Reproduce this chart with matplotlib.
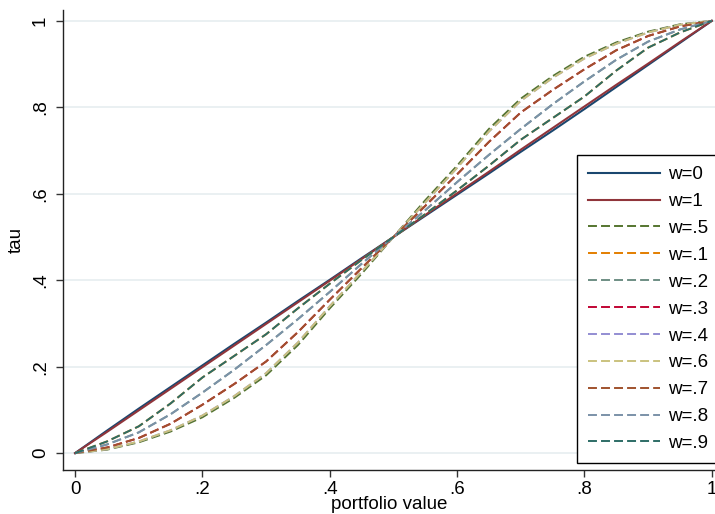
import matplotlib
matplotlib.use("Agg")
import matplotlib.pyplot as plt

# portfolio value grid
x = [0, .05, .1, .15, .2, .25, .3, .35, .4, .45, .5,
     .55, .6, .65, .7, .75, .8, .85, .9, .95, 1]

w0 = [0, .052, .103, .153, .203, .253, .302, .352, .401, .451, .5,
      .549, .598, .647, .697, .746, .796, .847, .898, .949, 1]
w1 = [0, .049, .099, .149, .199, .249, .299, .349, .399, .449, .5,
      .551, .601, .651, .702, .752, .802, .852, .901, .951, 1]
w05 = [0, .008, .025, .05, .083, .128, .18, .25, .335, .415, .5,
       .585, .665, .75, .82, .872, .917, .95, .975, .992, 1]
w01 = [0, .027, .062, .115, .175, .225, .275, .335, .392, .447, .5,
       .553, .608, .665, .725, .775, .825, .885, .938, .973, 1]
w02 = [0, .02, .048, .09, .14, .193, .25, .31, .373, .438, .5,
       .562, .627, .69, .75, .807, .86, .91, .952, .98, 1]
w03 = [0, .013, .035, .068, .112, .16, .212, .28, .355, .428, .5,
       .572, .645, .72, .788, .84, .888, .932, .965, .987, 1]
w04 = [0, .009, .027, .053, .087, .132, .185, .256, .34, .42, .5,
       .58, .66, .744, .815, .868, .913, .947, .973, .991, 1]
w06 = [0, .009, .027, .053, .087, .132, .185, .256, .34, .42, .5,
       .58, .66, .744, .815, .868, .913, .947, .973, .991, 1]
w07 = [0, .013, .035, .068, .112, .16, .212, .28, .355, .428, .5,
       .572, .645, .72, .788, .84, .888, .932, .965, .987, 1]
w08 = [0, .02, .048, .09, .14, .193, .25, .31, .373, .438, .5,
       .562, .627, .69, .75, .807, .86, .91, .952, .98, 1]
w09 = [0, .027, .062, .115, .175, .225, .275, .335, .392, .447, .5,
       .553, .608, .665, .725, .775, .825, .885, .938, .973, 1]

labels = ["w=0", "w=1", "w=.5", "w=.1", "w=.2", "w=.3", "w=.4",
          "w=.6", "w=.7", "w=.8", "w=.9"]
series = [w0, w1, w05, w01, w02, w03, w04, w06, w07, w08, w09]
colors = ["#1a476f", "#90353b", "#55752f", "#e37e00", "#6e8e84", "#c10534",
          "#938dd2", "#cac27e", "#a0522d", "#7b92a8", "#2d6d66"]

xticks = [0, .2, .4, .6, .8, 1]
xticklabels = ["0", ".2", ".4", ".6", ".8", "1"]

plt.rcParams['font.family'] = ['Liberation Sans', 'DejaVu Sans']

fig = plt.figure(figsize=(7.15, 5.14), dpi=100)
ax = fig.add_axes([0.0881, 0.0856, 0.9119, 0.8949])

for i, (ys, lab, c) in enumerate(zip(series, labels, colors)):
    if i < 2:
        ax.plot(x, ys, color=c, lw=1.5, label=lab, solid_joinstyle='round')
    else:
        ax.plot(x, ys, color=c, lw=1.4, label=lab, dashes=(4.6, 2.1))

ax.set_xlim(-0.019, 1.005)
ax.set_ylim(-0.039, 1.025)
ax.set_xticks(xticks)
ax.set_xticklabels(xticklabels)
ax.set_yticks(xticks)
ax.set_yticklabels(xticklabels, rotation=90, va='center')
ax.tick_params(axis='both', direction='out', length=5, width=1, labelsize=13.5,
               color='#333333')
ax.tick_params(axis='y', pad=5)
ax.tick_params(axis='x', pad=3)
ax.grid(axis='y', color='#e6eef0', lw=1.2)
ax.set_axisbelow(True)
for s in ['top', 'right']:
    ax.spines[s].set_visible(False)
for s in ['left', 'bottom']:
    ax.spines[s].set_color('#222222')
    ax.spines[s].set_linewidth(1)

ax.set_xlabel("portfolio value", fontsize=13.5, labelpad=-1.5)
ax.set_ylabel("tau", fontsize=13.5, labelpad=5)

leg = ax.legend(loc='upper left', bbox_to_anchor=(0.788, 0.685),
                fontsize=13.5, handlelength=3.84, labelspacing=0.52,
                frameon=True, fancybox=False, framealpha=1,
                edgecolor='black', borderpad=0.6, handletextpad=0.45,
                borderaxespad=0)
leg.get_frame().set_linewidth(1)

fig.savefig("out.png", dpi=100)
